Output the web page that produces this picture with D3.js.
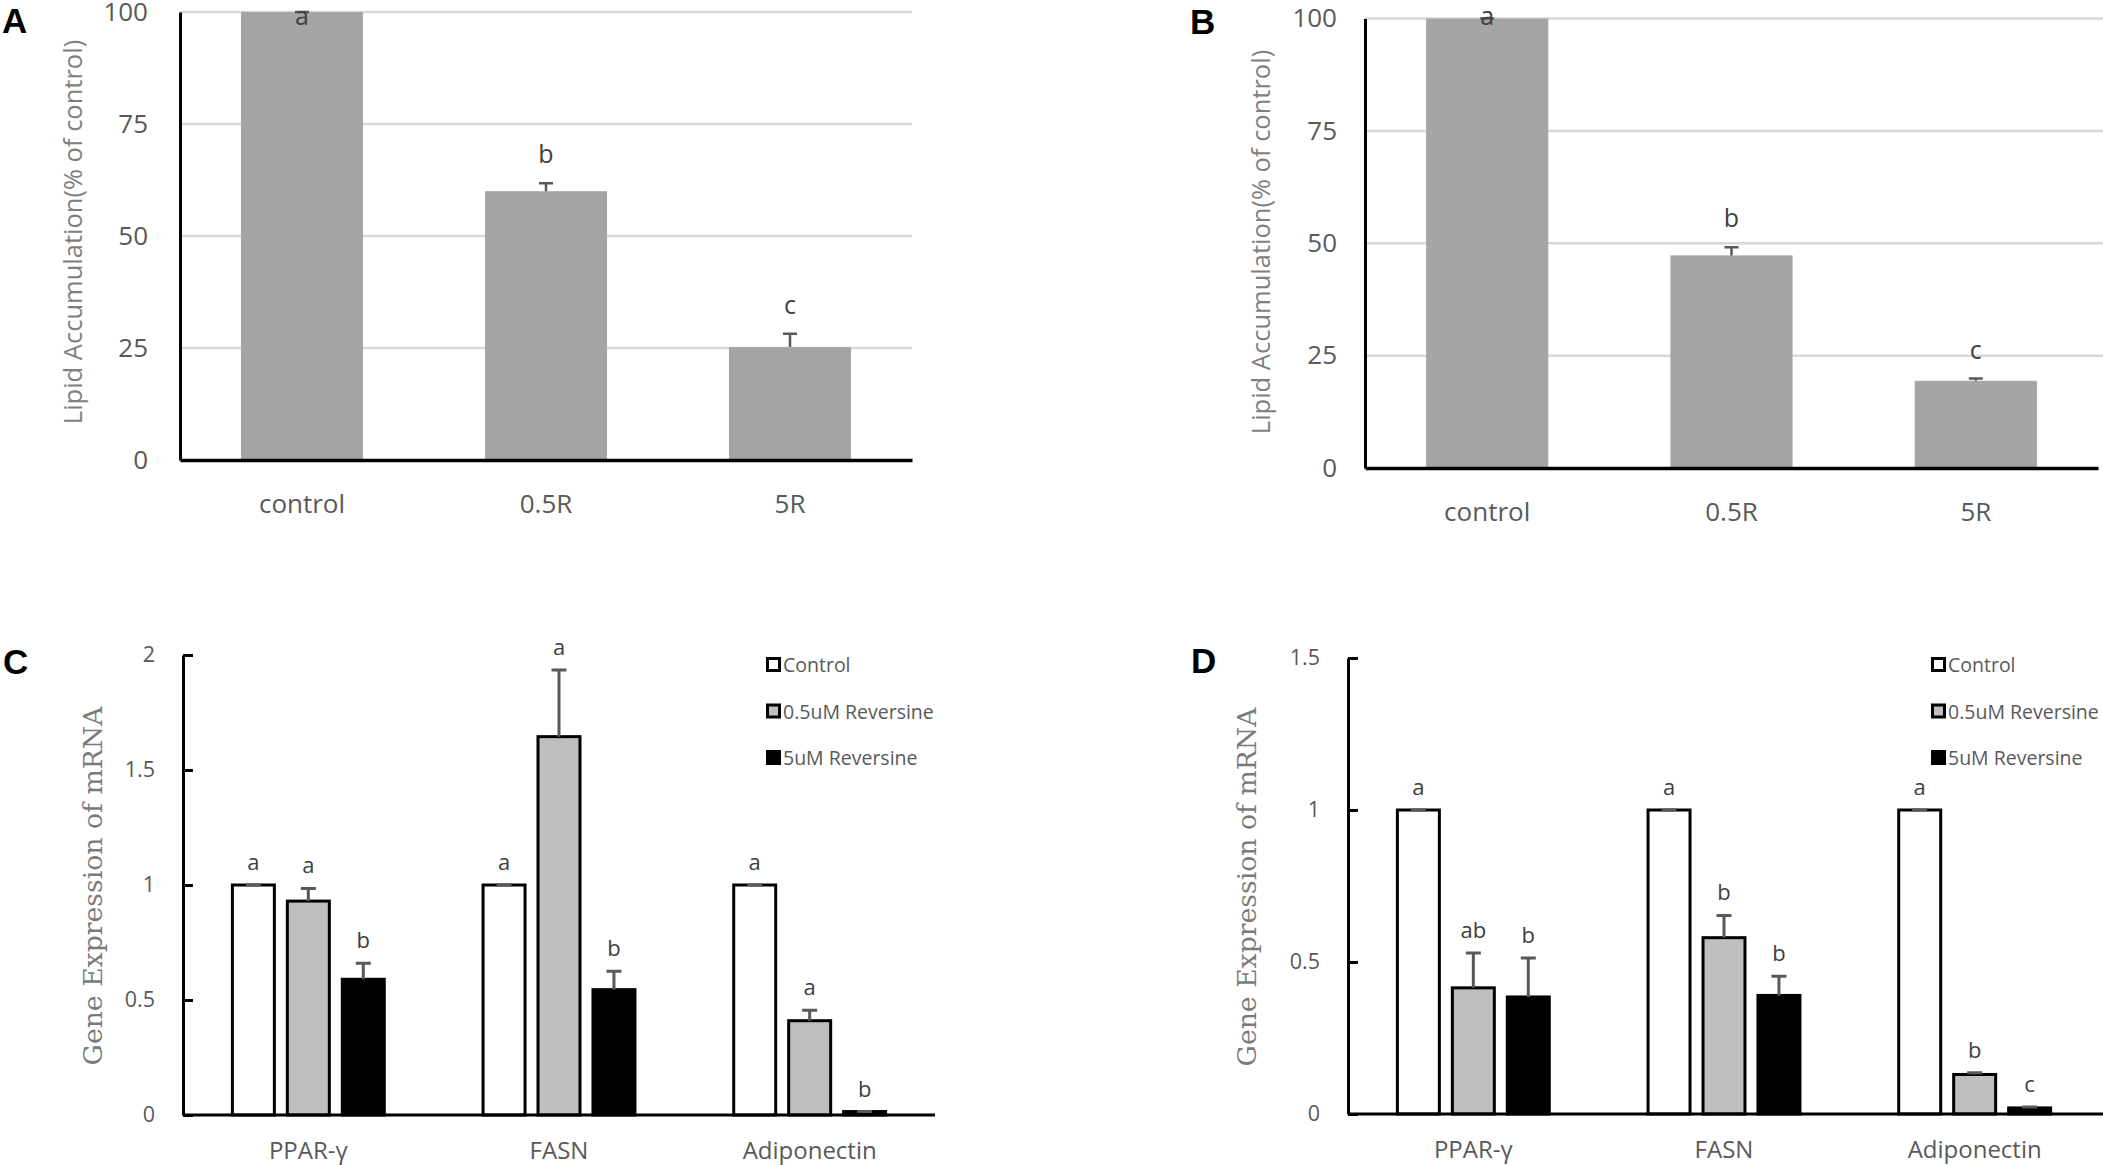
<!DOCTYPE html>
<html>
<head>
<meta charset="utf-8">
<script src="https://cdn.jsdelivr.net/npm/d3@7"></script>
<style>
  body { margin: 0; background: #fff; }
  svg { display: block; }
</style>
</head>
<body>
<div id="chart"></div>
<script>
//---------------- data ----------------
// panels A & B : lipid accumulation (% of control)
const lipidCats = ["control", "0.5R", "5R"];
const lipidTicks = [0, 25, 50, 75, 100];

const lipidA = [100, 60.0, 25.2];
const lipidAErr = [0, 1.8, 3.0];
const lipidALetters = ["a", "b", "c"];

const lipidB = [100, 47.3, 19.4];
const lipidBErr = [0, 1.8, 0.5];
const lipidBLetters = ["a", "b", "c"];

// panels C & D : gene expression of mRNA
const genes = ["PPAR-γ", "FASN", "Adiponectin"];
const treatments = ["Control", "0.5uM Reversine", "5uM Reversine"];
const treatColors = ["#ffffff", "#bfbfbf", "#000000"];

// rows = genes, columns = treatments
const geneC = [[1, 0.93, 0.59], [1, 1.645, 0.545], [1, 0.41, 0.015]];
const geneCErr = [[0, 0.055, 0.07], [0, 0.29, 0.08], [0, 0.045, 0]];
const geneCLetters = [["a", "a", "b"], ["a", "a", "b"], ["a", "a", "b"]];
const geneCTicks = [0, 0.5, 1, 1.5, 2];

const geneD = [[1, 0.415, 0.385], [1, 0.58, 0.39], [1, 0.13, 0.02]];
const geneDErr = [[0, 0.115, 0.128], [0, 0.073, 0.063], [0, 0.006, 0.003]];
const geneDLetters = [["a", "ab", "b"], ["a", "b", "b"], ["a", "b", "c"]];
const geneDTicks = [0, 0.5, 1, 1.5];

//---------------- svg ----------------
const svg = d3.select("#chart")
              .append("svg")
              .attr("width", 2103)
              .attr("height", 1165);

const sans = "'Open Sans', 'Noto Sans', sans-serif";

function panelLabel(txt, x, y) {
  svg.append("text")
     .attr("x", x).attr("y", y)
     .style("font-family", "'Liberation Sans', Arial, sans-serif")
     .style("font-weight", "bold")
     .style("font-size", "35px")
     .text(txt);
}

//---------------- lipid bar chart (A, B) ----------------
function drawLipid(cfg) {
  let g = svg.append("g");

  let x = d3.scaleBand()
            .domain(lipidCats)
            .range([cfg.left, cfg.right])
            .paddingInner(0.5)
            .paddingOuter(0.25);
  let y = d3.scaleLinear()
            .domain([0, 100])
            .range([cfg.bottom, cfg.top]);

  //gridlines
  g.selectAll(".grid")
   .data(lipidTicks.filter(d => d > 0))
   .enter().append("line")
   .attr("x1", cfg.left).attr("x2", cfg.gridRight)
   .attr("y1", d => y(d)).attr("y2", d => y(d))
   .attr("stroke", "#d9d9d9")
   .attr("stroke-width", 2.5);

  let rows = lipidCats.map((c, i) => ({cat: c, v: cfg.values[i], e: cfg.errs[i], l: cfg.letters[i]}));

  //bars
  g.selectAll(".bar")
   .data(rows)
   .enter().append("rect")
   .attr("x", d => x(d.cat))
   .attr("y", d => y(d.v))
   .attr("width", x.bandwidth())
   .attr("height", d => y(0) - y(d.v))
   .attr("fill", "#a5a5a5");

  //error bars (upper only)
  let cx = d => x(d.cat) + x.bandwidth() / 2;
  g.selectAll(".err")
   .data(rows)
   .enter().append("path")
   .attr("d", d => `M${cx(d)},${y(d.v)}V${y(d.v + d.e)}M${cx(d) - 7},${y(d.v + d.e)}H${cx(d) + 7}`)
   .attr("fill", "none")
   .attr("stroke", "#595959")
   .attr("stroke-width", 2.5);

  //significance letters
  g.selectAll(".letter")
   .data(rows)
   .enter().append("text")
   .attr("x", cx)
   .attr("y", d => Math.max(y(d.v + d.e) - 20, 25))
   .attr("text-anchor", "middle")
   .style("font-family", sans)
   .style("font-size", "25px")
   .attr("fill", "#404040")
   .text(d => d.l);

  //y axis
  let yAxis = g.append("g")
               .attr("transform", `translate(${cfg.left},0)`)
               .call(d3.axisLeft(y).tickValues(lipidTicks).tickSize(0).tickPadding(cfg.tickPad));
  yAxis.select(".domain").attr("stroke", "#000").attr("stroke-width", 3);
  yAxis.selectAll("text")
       .style("font-family", sans)
       .style("font-size", "26px")
       .attr("fill", "#595959");

  //x axis
  let xAxis = g.append("g")
               .attr("transform", `translate(0,${cfg.bottom})`)
               .call(d3.axisBottom(x).tickSize(0).tickPadding(35));
  xAxis.select(".domain").attr("stroke", "#000").attr("stroke-width", 3.5);
  xAxis.selectAll("text")
       .style("font-family", sans)
       .style("font-size", "26px")
       .attr("fill", "#595959");

  //axis title
  g.append("text")
   .attr("transform", `translate(${cfg.titleX},${cfg.titleY}) rotate(-90)`)
   .attr("text-anchor", "middle")
   .style("font-family", sans)
   .style("font-size", "25.5px")
   .attr("fill", "#7f7f7f")
   .text("Lipid Accumulation(% of control)");
}

//---------------- grouped gene chart (C, D) ----------------
function drawGene(cfg) {
  let g = svg.append("g");

  let x0 = d3.scaleBand()
             .domain(genes)
             .range([cfg.left, cfg.right])
             .paddingInner(0.394)
             .paddingOuter(0.197);
  let x1 = d3.scaleBand()
             .domain(treatments)
             .range([0, x0.bandwidth()])
             .paddingInner(0.236)
             .paddingOuter(0);
  let y = d3.scaleLinear()
            .domain([0, cfg.ticks[cfg.ticks.length - 1]])
            .range([cfg.bottom, cfg.top]);
  let color = d3.scaleOrdinal().domain(treatments).range(treatColors);

  let rows = [];
  genes.forEach((gn, i) => treatments.forEach((t, j) => {
    rows.push({gene: gn, t: t, v: cfg.values[i][j], e: cfg.errs[i][j], l: cfg.letters[i][j]});
  }));
  let cx = d => x0(d.gene) + x1(d.t) + x1.bandwidth() / 2;

  //bars
  g.selectAll(".bar")
   .data(rows)
   .enter().append("rect")
   .attr("x", d => x0(d.gene) + x1(d.t))
   .attr("y", d => y(d.v))
   .attr("width", x1.bandwidth())
   .attr("height", d => y(0) - y(d.v))
   .attr("fill", d => color(d.t))
   .attr("stroke", "#000")
   .attr("stroke-width", 3);

  //error bars
  g.selectAll(".err")
   .data(rows)
   .enter().append("path")
   .attr("d", d => `M${cx(d)},${y(d.v)}V${y(d.v + d.e)}M${cx(d) - 7.5},${y(d.v + d.e)}H${cx(d) + 7.5}`)
   .attr("fill", "none")
   .attr("stroke", "#595959")
   .attr("stroke-width", 3);

  //letters
  g.selectAll(".letter")
   .data(rows)
   .enter().append("text")
   .attr("x", cx)
   .attr("y", d => y(d.v + d.e) - 15)
   .attr("text-anchor", "middle")
   .style("font-family", sans)
   .style("font-size", "22px")
   .attr("fill", "#404040")
   .text(d => d.l);

  //x axis line + labels
  let xAxis = g.append("g")
               .attr("transform", `translate(0,${cfg.bottom})`)
               .call(d3.axisBottom(x0).tickSize(0).tickPadding(27));
  xAxis.select(".domain").remove();
  g.append("line")
   .attr("x1", cfg.left).attr("x2", cfg.axisEnd)
   .attr("y1", cfg.bottom).attr("y2", cfg.bottom)
   .attr("stroke", "#000").attr("stroke-width", 3);
  xAxis.selectAll("text")
       .style("font-family", sans)
       .style("font-size", "24px")
       .attr("fill", "#595959");

  //y axis, ticks inward
  let yAxis = g.append("g")
               .attr("transform", `translate(${cfg.left},0)`)
               .call(d3.axisLeft(y).tickValues(cfg.ticks).tickSizeInner(-10).tickSizeOuter(0)
                       .tickPadding(28).tickFormat(d3.format("")));
  yAxis.select(".domain").attr("stroke", "#000").attr("stroke-width", 3);
  yAxis.selectAll(".tick line").attr("stroke", "#000").attr("stroke-width", 3);
  yAxis.selectAll("text")
       .style("font-family", sans)
       .style("font-size", "21.5px")
       .attr("fill", "#595959");

  //axis title
  g.append("text")
   .attr("transform", `translate(${cfg.titleX},${cfg.titleY}) rotate(-90)`)
   .attr("text-anchor", "middle")
   .style("font-family", "'DejaVu Serif', serif")
   .style("font-size", "26.7px")
   .attr("fill", "#7a7a7a")
   .text("Gene Expression of mRNA");

  //legend
  let leg = g.selectAll(".legend")
             .data(treatments)
             .enter().append("g")
             .attr("transform", (d, i) => `translate(${cfg.legendX},${cfg.legendY + i * 46.5})`);
  leg.append("rect")
     .attr("x", 1.5).attr("y", -6.5)
     .attr("width", 12).attr("height", 12)
     .attr("fill", d => color(d))
     .attr("stroke", "#000")
     .attr("stroke-width", 3);
  leg.append("text")
     .attr("x", 17).attr("y", 7)
     .style("font-family", sans)
     .style("font-size", "19.5px")
     .attr("fill", "#595959")
     .text(d => d);
}

//---------------- draw ----------------
drawLipid({values: lipidA, errs: lipidAErr, letters: lipidALetters,
           left: 180, right: 912, gridRight: 912, top: 12, bottom: 460,
           tickPad: 32, titleX: 82, titleY: 232});
drawLipid({values: lipidB, errs: lipidBErr, letters: lipidBLetters,
           left: 1365, right: 2098, gridRight: 2103, top: 18.5, bottom: 468,
           tickPad: 28, titleX: 1270, titleY: 242});

drawGene({values: geneC, errs: geneCErr, letters: geneCLetters, ticks: geneCTicks,
          left: 183, right: 935, axisEnd: 935, top: 655, bottom: 1115,
          titleX: 102, titleY: 886, legendX: 766, legendY: 665});
drawGene({values: geneD, errs: geneDErr, letters: geneDLetters, ticks: geneDTicks,
          left: 1348, right: 2100, axisEnd: 2103, top: 658, bottom: 1114,
          titleX: 1256, titleY: 887, legendX: 1931, legendY: 665});

panelLabel("A", 2, 33);
panelLabel("B", 1190, 34);
panelLabel("C", 3, 674);
panelLabel("D", 1191, 673);
</script>
</body>
</html>
